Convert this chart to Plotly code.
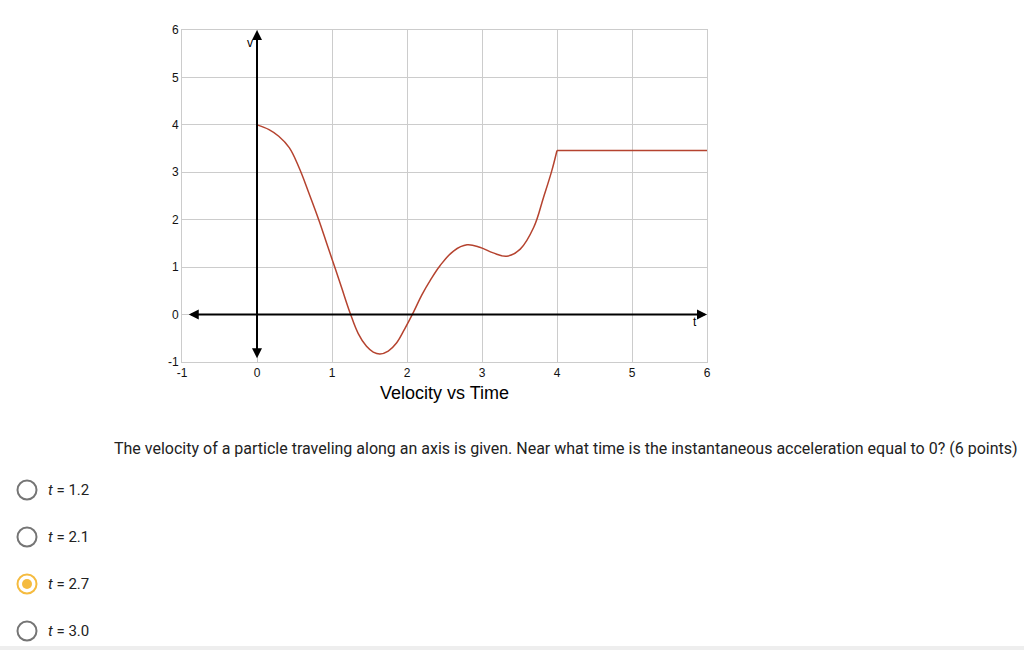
import plotly.graph_objects as go

# ---- data ----
t_curve = [0, 0.16, 0.29, 0.43, 0.56, 0.69, 0.83, 0.94, 1.05, 1.13, 1.24, 1.35, 1.46, 1.55, 1.64,
           1.75, 1.86, 1.97, 2.08, 2.2, 2.31, 2.44, 2.62, 2.8, 2.97, 3.15, 3.33, 3.51, 3.69, 3.82,
           3.93, 4.0]
v_curve = [4.0, 3.9, 3.76, 3.52, 3.1, 2.57, 1.97, 1.45, 0.94, 0.56, 0.04, -0.4, -0.67, -0.79, -0.83,
           -0.77, -0.6, -0.3, 0.03, 0.42, 0.72, 1.03, 1.34, 1.47, 1.42, 1.3, 1.23, 1.38, 1.84, 2.47,
           3.03, 3.46]
t_flat = [4.0, 6.0]
v_flat = [3.46, 3.46]

x_ticks = [-1, 0, 1, 2, 3, 4, 5, 6]
y_ticks = [-1, 0, 1, 2, 3, 4, 5, 6]

title_text = "Velocity vs Time"
question = ("The velocity of a particle traveling along an axis is given. Near what time is the "
            "instantaneous acceleration equal to 0? (6 points)")
options = ["1.2", "2.1", "2.7", "3.0"]
selected = "2.7"

W, H = 1024, 650
L, R, T, B = 182, 707, 30, 362  # plot area pixels


def px(x):
    return (x - L) / (R - L)


def py(y):
    return (B - y) / (B - T)


line_color = "#b5432f"
grid_color = "#cccccc"

fig = go.Figure()
fig.add_trace(go.Scatter(x=t_curve, y=v_curve, mode="lines",
                         line=dict(color=line_color, width=1.5, shape="spline", smoothing=1.1),
                         hoverinfo="skip", showlegend=False))
fig.add_trace(go.Scatter(x=t_flat, y=v_flat, mode="lines",
                         line=dict(color=line_color, width=1.5),
                         hoverinfo="skip", showlegend=False))

annotations = []
# axes with arrows
annotations.append(dict(x=0, y=6, ax=0, ay=-0.95, xref="x", yref="y", axref="x", ayref="y",
                        text="", showarrow=True, arrowhead=2, startarrowhead=2, arrowside="end+start",
                        arrowwidth=2, arrowsize=1, startarrowsize=1, arrowcolor="black"))
annotations.append(dict(x=6, y=0, ax=-0.93, ay=0, xref="x", yref="y", axref="x", ayref="y",
                        text="", showarrow=True, arrowhead=2, startarrowhead=2, arrowside="end+start",
                        arrowwidth=2, arrowsize=1, startarrowsize=1, arrowcolor="black"))
annotations.append(dict(x=-0.09, y=5.72, xref="x", yref="y", text="v", showarrow=False,
                        font=dict(family="Liberation Sans, Arial", size=12, color="black")))
annotations.append(dict(x=5.84, y=-0.15, xref="x", yref="y", text="t", showarrow=False,
                        font=dict(family="Liberation Sans, Arial", size=12, color="black")))
# title below chart
annotations.append(dict(x=px(444), y=py(393), xref="paper", yref="paper", text=title_text,
                        showarrow=False, xanchor="center", yanchor="middle",
                        font=dict(family="Liberation Sans, Arial", size=18, color="black")))
# question
annotations.append(dict(x=px(112), y=py(448), xref="paper", yref="paper", text=question,
                        showarrow=False, xanchor="left", yanchor="middle",
                        font=dict(family="Roboto", size=16, color="#222222")))

shapes = []
ys = [490, 537, 584, 631]
for opt, yc in zip(options, ys):
    r = 9.5
    col = "#f5bb3f" if opt == selected else "#757575"
    shapes.append(dict(type="circle", xref="paper", yref="paper",
                       x0=px(27 - r), x1=px(27 + r), y0=py(yc + r), y1=py(yc - r),
                       line=dict(color=col, width=2), fillcolor="white"))
    if opt == selected:
        ri = 5
        shapes.append(dict(type="circle", xref="paper", yref="paper",
                           x0=px(27 - ri), x1=px(27 + ri), y0=py(yc + ri), y1=py(yc - ri),
                           line=dict(color=col, width=0), fillcolor=col))
    annotations.append(dict(x=px(46), y=py(yc), xref="paper", yref="paper",
                            text="<i>t</i> = " + opt, showarrow=False, xanchor="left", yanchor="middle",
                            font=dict(family="Roboto", size=15, color="#222222")))

# faint bottom strip
shapes.append(dict(type="rect", xref="paper", yref="paper", x0=px(0), x1=px(W), y0=py(650), y1=py(646),
                   line=dict(width=0), fillcolor="#eeeeee"))

axis_common = dict(range=[-1, 6], showgrid=True, gridcolor=grid_color, gridwidth=1, zeroline=False,
                   showline=True, linecolor=grid_color, linewidth=1, mirror=True,
                   ticks="", fixedrange=True,
                   tickfont=dict(family="Liberation Sans, Arial", size=12, color="#111111"))

fig.update_layout(
    width=W, height=H,
    margin=dict(l=L, r=W - R, t=T, b=H - B, pad=0),
    paper_bgcolor="white", plot_bgcolor="white",
    annotations=annotations, shapes=shapes,
    font=dict(family="Liberation Sans, Arial", size=12, color="black"),
    xaxis=dict(tickvals=x_ticks, ticktext=[str(v) for v in x_ticks], **axis_common),
    yaxis=dict(tickvals=y_ticks, ticktext=[str(v) for v in y_ticks], **axis_common),
)

fig.write_html("out.html")
